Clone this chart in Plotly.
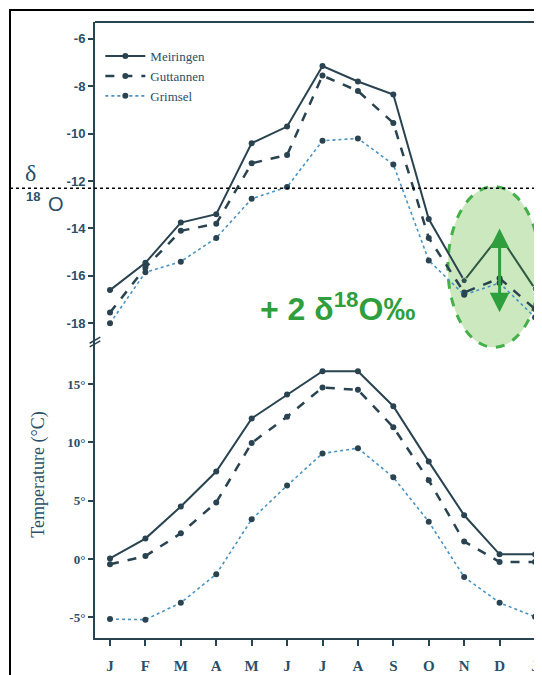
import plotly.graph_objects as go

# ---------------- data ----------------
months = ["J", "F", "M", "A", "M", "J", "J", "A", "S", "O", "N", "D", "J"]
x_idx = list(range(len(months)))

d18o_meiringen = [-16.6, -15.45, -13.75, -13.4, -10.4, -9.7, -7.15, -7.8, -8.35, -13.6, -16.2, -14.3, -16.55]
d18o_guttannen = [-17.55, -15.65, -14.1, -13.8, -11.25, -10.9, -7.55, -8.2, -9.55, -14.4, -16.7, -16.1, -17.4]
d18o_grimsel = [-18.0, -15.85, -15.4, -14.4, -12.75, -12.25, -10.3, -10.2, -11.3, -15.35, -16.8, -16.3, -17.75]

temp_meiringen = [0.05, 1.75, 4.5, 7.5, 12.05, 14.1, 16.1, 16.1, 13.1, 8.35, 3.75, 0.4, 0.4]
temp_guttannen = [-0.45, 0.25, 2.2, 4.85, 9.95, 12.2, 14.7, 14.5, 11.3, 6.75, 1.5, -0.25, -0.25]
temp_grimsel = [-5.15, -5.2, -3.75, -1.3, 3.4, 6.3, 9.05, 9.5, 7.0, 3.2, -1.55, -3.75, -4.95]

d18o_ticks = [-18, -16, -14, -12, -10, -8, -6]
d18o_ticktext = ["-18", "-16", "-14", "-12", "-10", "-8", "-6"]
temp_ticks = [-5, 0, 5, 10, 15]
temp_ticktext = ["-5°", "0°", "5°", "10°", "15°"]

ref_line_d18o = -12.3      # dotted horizontal reference
shift_from, shift_to = -17.6, -14.0   # +2 permil arrow at December
stations = ["Meiringen", "Guttannen", "Grimsel"]

# ---------------- styles ----------------
DARK = "#2a4350"
BLUE = "#4a93c2"
TXT = "#2b4f68"
GREEN = "#2f9e3c"
SERIF = "Liberation Serif, Times New Roman, serif"
SANS_N = "Liberation Sans Narrow, Liberation Sans, Arial, sans-serif"

fig = go.Figure()

# top panel (delta 18O)
fig.add_trace(go.Scatter(x=x_idx[:11], y=d18o_meiringen[:11], name=stations[0], mode="lines+markers",
                         line=dict(color=DARK, width=2), marker=dict(size=6, color=DARK),
                         xaxis="x", yaxis="y", legendrank=1))
fig.add_trace(go.Scatter(x=x_idx[10:], y=d18o_meiringen[10:], mode="lines+markers", showlegend=False,
                         line=dict(color="#2f5a40", width=2), marker=dict(size=[6, 0, 6], color="#2f5a40"),
                         xaxis="x", yaxis="y"))
fig.add_trace(go.Scatter(x=x_idx, y=d18o_guttannen, name=stations[1], mode="lines+markers",
                         line=dict(color=DARK, width=2.5, dash="dash"), marker=dict(size=6, color=DARK),
                         xaxis="x", yaxis="y", legendrank=2))
fig.add_trace(go.Scatter(x=x_idx, y=d18o_grimsel, name=stations[2], mode="lines+markers",
                         line=dict(color=BLUE, width=1.6, dash="dot"), marker=dict(size=6, color=DARK),
                         xaxis="x", yaxis="y", legendrank=3))

# bottom panel (temperature)
fig.add_trace(go.Scatter(x=x_idx, y=temp_meiringen, mode="lines+markers", showlegend=False,
                         line=dict(color=DARK, width=2), marker=dict(size=6, color=DARK),
                         xaxis="x", yaxis="y2"))
fig.add_trace(go.Scatter(x=x_idx, y=temp_guttannen, mode="lines+markers", showlegend=False,
                         line=dict(color=DARK, width=2.5, dash="dash"), marker=dict(size=6, color=DARK),
                         xaxis="x", yaxis="y2"))
fig.add_trace(go.Scatter(x=x_idx, y=temp_grimsel, mode="lines+markers", showlegend=False,
                         line=dict(color=BLUE, width=1.6, dash="dot"), marker=dict(size=6, color=DARK),
                         xaxis="x", yaxis="y2"))

split = 0.4805

fig.update_layout(
    width=534, height=667,
    margin=dict(l=87, r=2, t=14, b=37),
    paper_bgcolor="white", plot_bgcolor="rgba(0,0,0,0)",
    xaxis=dict(range=[-0.4235, 12.141], tickvals=x_idx, ticktext=months, anchor="y2",
               showline=True, linecolor=DARK, linewidth=2, ticks="outside", ticklen=6,
               tickcolor=DARK, tickwidth=2, showgrid=False, zeroline=False, ticklabelstandoff=7,
               tickfont=dict(family=SERIF, size=15, color=TXT, weight="bold")),
    yaxis=dict(domain=[split, 1], range=[-18.79, -5.29], tickvals=d18o_ticks, ticktext=d18o_ticktext,
               anchor="x", showline=True, linecolor=DARK, linewidth=2, ticks="outside", ticklen=5,
               tickcolor=DARK, tickwidth=2, showgrid=False, zeroline=False,
               tickfont=dict(family=SANS_N, size=13, color=TXT, weight="bold")),
    yaxis2=dict(domain=[0, split], range=[-6.77, 18.6], tickvals=temp_ticks, ticktext=temp_ticktext,
                anchor="x", showline=True, linecolor=DARK, linewidth=2, ticks="outside", ticklen=5,
                tickcolor=DARK, tickwidth=2, showgrid=False, zeroline=False,
                tickfont=dict(family=SERIF, size=13, color=TXT, weight="bold")),
    legend=dict(x=0.012, y=0.969, xanchor="left", yanchor="top", bgcolor="rgba(0,0,0,0)",
                font=dict(family=SERIF, size=13, color=TXT), tracegroupgap=0, itemwidth=40),
    showlegend=True,
)

shapes = [
    # outer frame (scan border)
    dict(type="rect", xref="paper", yref="paper", x0=-0.191, x1=1.002, y0=-0.07, y1=1.0195,
         line=dict(color="black", width=2), layer="above"),
    # top border of plot
    dict(type="line", xref="paper", yref="paper", x0=0, x1=1.0, y0=1, y1=1,
         line=dict(color=DARK, width=2)),
    # dotted reference line
    dict(type="line", xref="paper", yref="y", x0=-0.191, x1=1.002, y0=ref_line_d18o, y1=ref_line_d18o,
         line=dict(color="black", width=1.5, dash="dot")),
    # green ellipse
    dict(type="circle", xref="paper", yref="paper", x0=0.793, x1=1.0, y0=0.472, y1=0.733,
         fillcolor="rgba(140,205,110,0.45)", line=dict(color="#44b04a", width=3, dash="dash"),
         layer="below"),
    # axis break marks
    dict(type="line", xref="paper", yref="paper", x0=-0.012, x1=0.012, y0=split - 0.008, y1=split + 0.002,
         line=dict(color=DARK, width=1.5)),
    dict(type="line", xref="paper", yref="paper", x0=-0.012, x1=0.012, y0=split - 0.002, y1=split + 0.008,
         line=dict(color=DARK, width=1.5)),
]
fig.update_layout(shapes=shapes)

C = dict(xanchor="center", yanchor="middle", showarrow=False)
annotations = [
    dict(x=11, y=shift_to, ax=11, ay=shift_from, xref="x", yref="y", axref="x", ayref="y",
         showarrow=True, arrowhead=2, arrowside="end+start", arrowsize=1.3, arrowwidth=3,
         arrowcolor=GREEN, text=""),
    dict(xref="paper", yref="paper", x=0.545, y=0.538, text="+ 2 δ<sup>18</sup>O‰",
         font=dict(family="Liberation Sans, Arial, sans-serif", size=32, color=GREEN, weight="bold"), **C),
    dict(xref="paper", yref="paper", x=-0.146, y=0.755, text="δ",
         font=dict(family=SERIF, size=24, color=TXT), **C),
    dict(xref="paper", yref="paper", x=-0.139, y=0.7175, text="<b>18</b>",
         font=dict(family=SANS_N, size=13, color=TXT), **C),
    dict(xref="paper", yref="paper", x=-0.088, y=0.7045, text="O",
         font=dict(family="Liberation Sans, Arial, sans-serif", size=20, color=TXT), **C),
    dict(xref="paper", yref="paper", x=-0.126, y=0.265, text="Temperature (°C)", textangle=-90,
         font=dict(family=SERIF, size=18, color=TXT), **C),
]
fig.update_layout(annotations=annotations)

fig.write_html("out.html")
